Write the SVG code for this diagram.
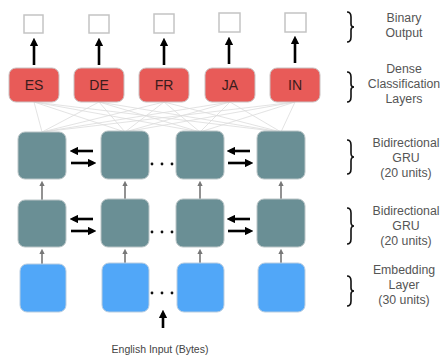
<svg xmlns="http://www.w3.org/2000/svg" width="443" height="356" viewBox="0 0 443 356">
<defs>
<style>
.bin{fill:#fff;stroke:#c4c4c4;stroke-width:1.5}
.red{fill:#e85b58;stroke:#c9c2c2;stroke-width:1}
.gru{fill:#6a8f95;stroke:#b9c4c6;stroke-width:1}
.emb{fill:#51a7f8;stroke:#b9cde0;stroke-width:1}
.lbl{font-family:"Liberation Sans",Arial,sans-serif;font-size:14px;fill:#3a1c1c;text-anchor:middle}
.side{font-family:"Liberation Sans",Arial,sans-serif;font-size:12.3px;fill:#555;text-anchor:middle}
.inp{font-family:"Liberation Sans",Arial,sans-serif;font-size:10.5px;fill:#444;text-anchor:middle}
.fc{stroke:#dcdcdc;stroke-width:0.8;fill:none}
.blk{stroke:#000;stroke-width:2.6;fill:none;marker-end:url(#ab)}
.gry{stroke:#777;stroke-width:1.6;fill:none;marker-end:url(#ag)}
.brace{stroke:#111;stroke-width:1.6;fill:none}
</style>
<marker id="ab" viewBox="0 0 10 10" refX="6" refY="5" markerWidth="3.2" markerHeight="3.2" orient="auto"><path d="M0,0 L10,5 L0,10 z" fill="#000"/></marker>
<marker id="ag" viewBox="0 0 10 10" refX="6" refY="5" markerWidth="3.5" markerHeight="3.5" orient="auto"><path d="M0,0 L10,5 L0,10 z" fill="#777"/></marker>
</defs>
<g id="connectors">
<g id="fully-connected">
<line class="fc" x1="34" y1="102" x2="42" y2="132"/><line class="fc" x1="34" y1="102" x2="125" y2="132"/><line class="fc" x1="34" y1="102" x2="200" y2="132"/><line class="fc" x1="34" y1="102" x2="281" y2="132"/>
<line class="fc" x1="99" y1="102" x2="42" y2="132"/><line class="fc" x1="99" y1="102" x2="125" y2="132"/><line class="fc" x1="99" y1="102" x2="200" y2="132"/><line class="fc" x1="99" y1="102" x2="281" y2="132"/>
<line class="fc" x1="164" y1="102" x2="42" y2="132"/><line class="fc" x1="164" y1="102" x2="125" y2="132"/><line class="fc" x1="164" y1="102" x2="200" y2="132"/><line class="fc" x1="164" y1="102" x2="281" y2="132"/>
<line class="fc" x1="230" y1="102" x2="42" y2="132"/><line class="fc" x1="230" y1="102" x2="125" y2="132"/><line class="fc" x1="230" y1="102" x2="200" y2="132"/><line class="fc" x1="230" y1="102" x2="281" y2="132"/>
<line class="fc" x1="295" y1="102" x2="42" y2="132"/><line class="fc" x1="295" y1="102" x2="125" y2="132"/><line class="fc" x1="295" y1="102" x2="200" y2="132"/><line class="fc" x1="295" y1="102" x2="281" y2="132"/>
</g>
<line class="blk" x1="34" y1="65" x2="34" y2="41"/>
<line class="blk" x1="99" y1="65" x2="99" y2="41"/>
<line class="blk" x1="164" y1="65" x2="164" y2="41"/>
<line class="blk" x1="229" y1="64" x2="229" y2="40"/>
<line class="blk" x1="295" y1="63" x2="295" y2="39"/>
<line class="blk" x1="93" y1="151" x2="73" y2="151"/>
<line class="blk" x1="71" y1="163" x2="93" y2="163"/>
<line class="blk" x1="250" y1="151" x2="230" y2="151"/>
<line class="blk" x1="228" y1="163" x2="250" y2="163"/>
<line class="blk" x1="93" y1="219" x2="73" y2="219"/>
<line class="blk" x1="71" y1="231" x2="93" y2="231"/>
<line class="blk" x1="250" y1="219" x2="230" y2="219"/>
<line class="blk" x1="228" y1="231" x2="250" y2="231"/>
<line class="gry" x1="42" y1="200" x2="42" y2="183"/>
<line class="gry" x1="125" y1="199" x2="125" y2="183"/>
<line class="gry" x1="200" y1="199" x2="200" y2="183"/>
<line class="gry" x1="281" y1="199" x2="281" y2="183"/>
<line class="gry" x1="42" y1="264" x2="42" y2="251"/>
<line class="gry" x1="125" y1="263" x2="125" y2="251"/>
<line class="gry" x1="200" y1="263" x2="200" y2="251"/>
<line class="gry" x1="281" y1="263" x2="281" y2="251"/>
<line class="blk" x1="163" y1="328" x2="163" y2="313"/>
</g>
<g id="dots" fill="#111">
<circle cx="152" cy="164" r="1.4"/><circle cx="162" cy="164" r="1.4"/><circle cx="172" cy="164" r="1.4"/>
<circle cx="152" cy="232" r="1.4"/><circle cx="162" cy="232" r="1.4"/><circle cx="172" cy="232" r="1.4"/>
<circle cx="152" cy="293" r="1.4"/><circle cx="162" cy="293" r="1.4"/><circle cx="172" cy="293" r="1.4"/>
</g>
<g id="out-es"><rect class="bin" x="24" y="15" width="19" height="18"/></g>
<g id="out-de"><rect class="bin" x="89" y="15" width="20" height="18"/></g>
<g id="out-fr"><rect class="bin" x="154" y="14" width="20" height="19"/></g>
<g id="out-ja"><rect class="bin" x="219" y="13" width="21" height="19"/></g>
<g id="out-in"><rect class="bin" x="285" y="13" width="21" height="19"/></g>
<g id="dense-es"><rect class="red" x="9" y="68" width="50" height="34" rx="7"/><text class="lbl" x="34" y="90">ES</text></g>
<g id="dense-de"><rect class="red" x="74" y="68" width="50" height="34" rx="7"/><text class="lbl" x="99" y="90">DE</text></g>
<g id="dense-fr"><rect class="red" x="139" y="68" width="50" height="34" rx="7"/><text class="lbl" x="164" y="90">FR</text></g>
<g id="dense-ja"><rect class="red" x="205" y="68" width="50" height="34" rx="7"/><text class="lbl" x="230" y="90">JA</text></g>
<g id="dense-in"><rect class="red" x="270" y="68" width="50" height="34" rx="7"/><text class="lbl" x="295" y="90">IN</text></g>
<g id="gru1-1"><rect class="gru" x="18" y="132" width="48" height="47" rx="7"/></g>
<g id="gru1-2"><rect class="gru" x="101" y="131" width="48" height="48" rx="7"/></g>
<g id="gru1-3"><rect class="gru" x="176" y="131" width="48" height="48" rx="7"/></g>
<g id="gru1-4"><rect class="gru" x="257" y="131" width="48" height="48" rx="7"/></g>
<g id="gru2-1"><rect class="gru" x="18" y="200" width="48" height="47" rx="7"/></g>
<g id="gru2-2"><rect class="gru" x="101" y="199" width="48" height="48" rx="7"/></g>
<g id="gru2-3"><rect class="gru" x="176" y="199" width="48" height="48" rx="7"/></g>
<g id="gru2-4"><rect class="gru" x="257" y="199" width="48" height="48" rx="7"/></g>
<g id="emb-1"><rect class="emb" x="20" y="264" width="46" height="48" rx="7"/></g>
<g id="emb-2"><rect class="emb" x="102" y="263" width="47" height="49" rx="7"/></g>
<g id="emb-3"><rect class="emb" x="177" y="263" width="47" height="49" rx="7"/></g>
<g id="emb-4"><rect class="emb" x="258" y="263" width="47" height="49" rx="7"/></g>
<g id="input-label"><text class="inp" x="160" y="353">English Input (Bytes)</text></g>
<g id="side-labels">
<path class="brace" d="M347,12 q4,0 4,5 v7 q0,3 3,3 q-3,0 -3,3 v7 q0,5 -4,5"/>
<path class="brace" d="M347,72 q4,0 4,5 v7 q0,3 3,3 q-3,0 -3,3 v7 q0,5 -4,5"/>
<path class="brace" d="M347,140 q4,0 4,5 v8 q0,4 3,4 q-3,0 -3,4 v8 q0,5 -4,5"/>
<path class="brace" d="M347,208 q4,0 4,5 v9 q0,4 3,4 q-3,0 -3,4 v9 q0,5 -4,5"/>
<path class="brace" d="M347,276 q4,0 4,5 v7 q0,3 3,3 q-3,0 -3,3 v7 q0,5 -4,5"/>
<text class="side" x="404" y="22">Binary</text>
<text class="side" x="404" y="37">Output</text>
<text class="side" x="404" y="73">Dense</text>
<text class="side" x="404" y="88">Classification</text>
<text class="side" x="404" y="103">Layers</text>
<text class="side" x="406" y="147">Bidirectional</text>
<text class="side" x="406" y="162">GRU</text>
<text class="side" x="406" y="177">(20 units)</text>
<text class="side" x="406" y="215">Bidirectional</text>
<text class="side" x="406" y="230">GRU</text>
<text class="side" x="406" y="245">(20 units)</text>
<text class="side" x="404" y="274">Embedding</text>
<text class="side" x="404" y="289">Layer</text>
<text class="side" x="404" y="304">(30 units)</text>
</g>
</svg>
